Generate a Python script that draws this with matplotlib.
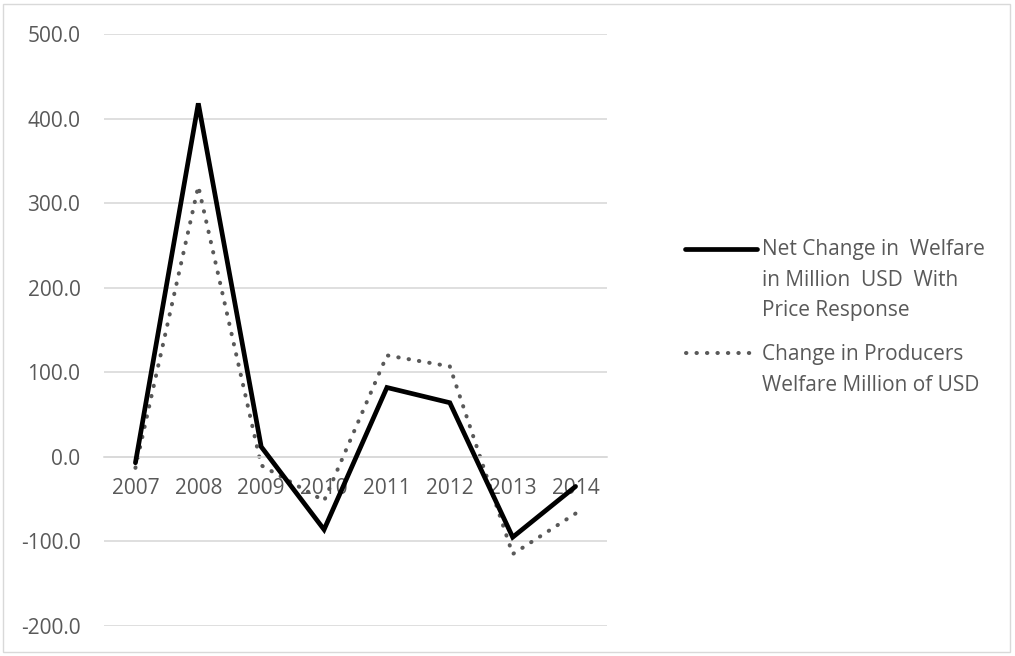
import matplotlib
matplotlib.use("Agg")
import matplotlib.pyplot as plt
from matplotlib.lines import Line2D
from matplotlib.patches import Rectangle

years = ["2007", "2008", "2009", "2010", "2011", "2012", "2013", "2014"]
net_welfare = [-7, 418, 12, -86, 82, 64, -95, -35]
producers_welfare = [-13, 320, -10, -52, 120, 107, -115, -67]

net_label = "Net Change in  Welfare\nin Million  USD  With\nPrice Response"
prod_label = "Change in Producers\nWelfare Million of USD"

W, H = 1015, 656
text_color = "#595959"
grid_color = "#d9d9d9"
dots = (0, (0.1, 2.5))

plt.rcParams["font.family"] = ["Open Sans", "DejaVu Sans"]

fig = plt.figure(figsize=(W / 100, H / 100), dpi=100)
fig.add_artist(Rectangle((3 / W, 4 / H), 1007 / W, 648 / H, transform=fig.transFigure,
                         facecolor="none", edgecolor=grid_color, linewidth=1))

ax = fig.add_axes([104 / W, 1 - 626 / H, (607 - 104) / W, (626 - 34) / H])
x = range(len(years))
ax.plot(x, net_welfare, color="black", linewidth=3.4, solid_joinstyle="miter",
        solid_capstyle="round", zorder=3)
ax.plot(x, producers_welfare, color=text_color, linewidth=2.9,
        linestyle=dots, dash_capstyle="round", zorder=2)

ax.set_xlim(-0.5, len(years) - 0.5)
ax.set_ylim(-200, 500)
ax.set_yticks(range(-200, 501, 100))
ax.set_yticklabels([f"{v:.1f}" for v in range(-200, 501, 100)])
ax.set_xticks(list(x))
ax.set_xticklabels(years)
ax.grid(axis="y", color=grid_color, linewidth=1.2)
ax.set_axisbelow(True)
for s in ["top", "right", "left"]:
    ax.spines[s].set_visible(False)
ax.spines["bottom"].set_position(("data", 0))
ax.spines["bottom"].set_color(grid_color)
ax.spines["bottom"].set_linewidth(1.2)
ax.tick_params(axis="both", length=0, labelsize=15, labelcolor=text_color)
ax.tick_params(axis="x", pad=15)
ax.tick_params(axis="y", pad=17)

# legend, drawn by hand so the key sits beside the first text line
fig.add_artist(Line2D([685 / W, 757 / W], [1 - 249 / H] * 2, color="black",
                      linewidth=3.4, solid_capstyle="round"))
fig.text(762 / W, 1 - 239 / H, net_label, fontsize=15, color=text_color,
         va="top", ha="left", linespacing=1.6)
fig.add_artist(Line2D([686 / W, 752 / W], [1 - 353 / H] * 2, color=text_color,
                      linewidth=2.9, linestyle=dots, dash_capstyle="round"))
fig.text(762 / W, 1 - 344 / H, prod_label, fontsize=15, color=text_color,
         va="top", ha="left", linespacing=1.6)

fig.savefig("out.png", dpi=100)
